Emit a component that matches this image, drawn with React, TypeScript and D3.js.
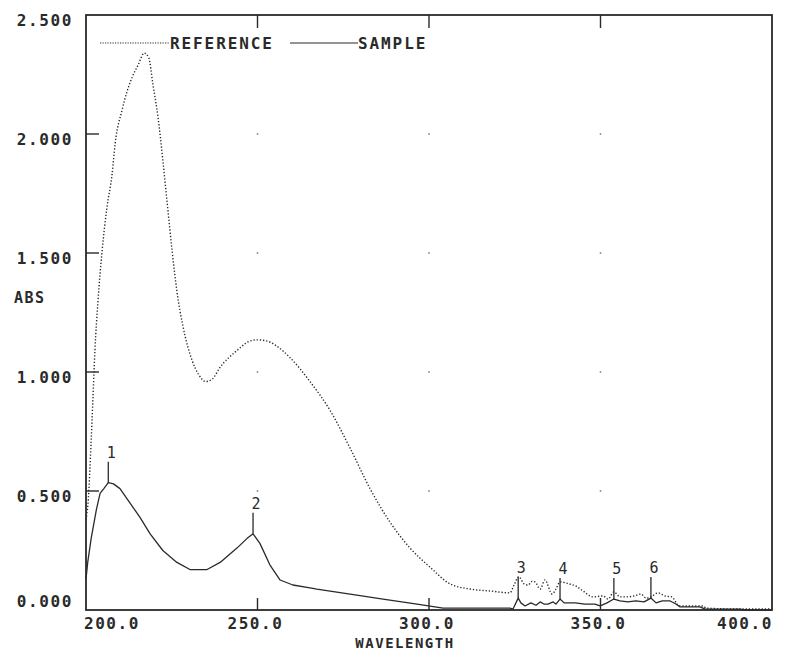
import React from "react";
import * as d3 from "d3";

const W = 788;
const H = 653;

// Reference spectrum (dotted)
const refWl = [200, 200.6, 201.5, 202.0, 202.6, 203.5, 204.7, 206.1, 207.6, 208.5, 210.5, 212.0, 213.5, 215.2, 217.0, 218.3, 219.5, 221.0, 222.4, 223.6, 225.1, 226.5, 228.3, 230.9, 232.8, 234.9, 236.8, 239.1, 244.0, 247.8, 249.9, 252.8, 255.5, 259.5, 265.3, 271.1, 277.0, 282.8, 288.6, 294.5, 300.3, 306.1, 312.0, 317.8, 323.6, 324.8, 326.2, 327.7, 328.9, 330.0, 330.9, 332.4, 333.8, 335.9, 337.0, 338.2, 340.8, 342.9, 344.9, 347.8, 350.7, 352.2, 353.9, 355.7, 357.7, 359.8, 361.8, 363.3, 364.7, 366.8, 368.8, 370.8, 372.9, 379.9, 380.8, 390.7, 400];
const refAbs = [0.38, 0.45, 0.71, 0.88, 1.09, 1.30, 1.51, 1.69, 1.83, 1.96, 2.10, 2.18, 2.24, 2.29, 2.34, 2.32, 2.21, 2.07, 1.89, 1.72, 1.51, 1.34, 1.19, 1.05, 0.99, 0.96, 0.97, 1.02, 1.09, 1.13, 1.135, 1.13, 1.11, 1.06, 0.96, 0.84, 0.68, 0.51, 0.37, 0.26, 0.18, 0.11, 0.088, 0.08, 0.072, 0.105, 0.14, 0.11, 0.105, 0.12, 0.118, 0.088, 0.126, 0.067, 0.088, 0.118, 0.11, 0.10, 0.08, 0.055, 0.059, 0.046, 0.076, 0.055, 0.055, 0.059, 0.067, 0.05, 0.055, 0.072, 0.059, 0.055, 0.017, 0.017, 0.008, 0.004, 0.004];

// Sample spectrum (solid)
const sampleWl = [200, 200.5, 201.5, 203.0, 204.1, 205.2, 206.5, 208.0, 209.9, 212.8, 215.7, 218.7, 222.4, 226.5, 230.3, 235.3, 239.1, 244.0, 246.9, 248.7, 250.7, 253.6, 256.6, 260.3, 265.3, 267.3, 277.0, 286.6, 296.5, 304.1, 323.6, 324.5, 326.0, 326.8, 328.0, 329.7, 331.2, 332.4, 333.5, 334.7, 336.2, 337.0, 338.2, 339.4, 342.6, 345.5, 348.4, 349.9, 351.9, 353.9, 355.7, 358.0, 360.3, 362.7, 364.7, 366.2, 368.0, 370.3, 372.0, 373.2, 379.0, 380.5, 390.7, 392.0, 400];
const sampleAbs = [0.13, 0.2, 0.3, 0.42, 0.49, 0.51, 0.535, 0.53, 0.51, 0.45, 0.39, 0.32, 0.25, 0.20, 0.17, 0.17, 0.20, 0.26, 0.30, 0.32, 0.28, 0.19, 0.126, 0.105, 0.093, 0.088, 0.067, 0.046, 0.025, 0.008, 0.008, 0.004, 0.05, 0.03, 0.017, 0.03, 0.02, 0.034, 0.025, 0.025, 0.034, 0.025, 0.046, 0.03, 0.03, 0.025, 0.025, 0.017, 0.03, 0.046, 0.038, 0.034, 0.038, 0.034, 0.05, 0.03, 0.038, 0.038, 0.025, 0.013, 0.013, 0.004, 0.004, 0, 0];

// Peak picks on the sample
const peakWl = [206.5, 248.7, 326.0, 338.2, 353.9, 364.7];
const peakLabels = ["1", "2", "3", "4", "5", "6"];

// Axis ticks
const yTicks = [0, 0.5, 1.0, 1.5, 2.0, 2.5];
const yTickLabels = ["0.000", "0.500", "1.000", "1.500", "2.000", "2.500"];
const xTicks = [200, 250, 300, 350, 400];
const xTickLabels = ["200.0", "250.0", "300.0", "350.0", "400.0"];

const legendNames = ["REFERENCE", "SAMPLE"];

const LEFT = 86, RIGHT = 772, TOP = 15, BOTTOM = 610;
const INK = "#2a2a2a";
const FONT = "'DejaVu Sans Mono', monospace";

export default function App() {
  const x = d3.scaleLinear().domain([200, 400]).range([LEFT, RIGHT]);
  const y = d3.scaleLinear().domain([0, 2.5]).range([BOTTOM, TOP]);

  const ref = refWl.map((w, i) => [w, refAbs[i]] as [number, number]).filter((d) => d[1] !== undefined);
  const smp = sampleWl.map((w, i) => [w, sampleAbs[i]] as [number, number]).filter((d) => d[1] !== undefined);

  const refLine = d3.line<[number, number]>().x((d) => x(d[0])).y((d) => y(d[1])).curve(d3.curveMonotoneX);
  const smpLine = d3.line<[number, number]>().x((d) => x(d[0])).y((d) => y(d[1])).curve(d3.curveLinear);

  const peaks = peakWl.map((w, i) => {
    let best = smp[0];
    smp.forEach((d) => { if (Math.abs(d[0] - w) < Math.abs(best[0] - w)) best = d; });
    return { w: best[0], v: best[1], label: peakLabels[i] };
  });

  const innerX = xTicks.filter((t) => t > 200 && t < 400);
  const innerY = yTicks.filter((t) => t > 0 && t < 2.5);

  return (
    <svg width={W} height={H} viewBox={`0 0 ${W} ${H}`} style={{ display: "block", position: "absolute", left: 0, top: 0, background: "#fff" }}>
      <rect x={0} y={0} width={W} height={H} fill="#fff" />
      {/* grid dots */}
      {innerX.map((tx) => innerY.map((ty) => (
        <rect key={`g${tx}-${ty}`} x={x(tx) - 0.75} y={y(ty) - 0.75} width={1.5} height={1.5} fill="#777" />
      )))}
      {/* frame */}
      <rect x={LEFT} y={TOP} width={RIGHT - LEFT} height={BOTTOM - TOP} fill="none" stroke={INK} strokeWidth={1.8} />
      {/* y ticks */}
      {innerY.map((t) => (
        <line key={`yt${t}`} x1={LEFT} x2={LEFT + 13} y1={y(t)} y2={y(t)} stroke={INK} strokeWidth={1.4} />
      ))}
      {/* x ticks top and bottom */}
      {innerX.map((t) => (
        <g key={`xt${t}`}>
          <line x1={x(t)} x2={x(t)} y1={TOP} y2={TOP + 13} stroke={INK} strokeWidth={1.4} />
          <line x1={x(t)} x2={x(t)} y1={BOTTOM} y2={BOTTOM - 12} stroke={INK} strokeWidth={1.4} />
        </g>
      ))}
      {/* y labels */}
      {yTicks.map((t, i) => (
        <text key={`yl${t}`} x={73} y={t === 0 ? y(t) - 3 : y(t) + 11} textAnchor="end" fontFamily={FONT} fontWeight="bold" fontSize={16} letterSpacing={1.6} fill={INK}>
          {yTickLabels[i]}
        </text>
      ))}
      <text x={14} y={303} fontFamily={FONT} fontWeight="bold" fontSize={15} letterSpacing={1.5} fill={INK}>ABS</text>
      {/* x labels */}
      {xTicks.map((t, i) => (
        <text key={`xl${t}`} x={i === 0 ? x(t) + 26 : i === xTicks.length - 1 ? x(t) - 27 : x(t) - 2} y={629} textAnchor="middle" fontFamily={FONT} fontWeight="bold" fontSize={16} letterSpacing={1.6} fill={INK}>
          {xTickLabels[i]}
        </text>
      ))}
      <text x={405} y={648} textAnchor="middle" fontFamily={FONT} fontWeight="bold" fontSize={14} letterSpacing={1.5} fill={INK}>WAVELENGTH</text>
      {/* legend */}
      <line x1={100} x2={170} y1={43} y2={43} stroke={INK} strokeWidth={1.2} strokeDasharray="1.2 1.3" />
      <text x={170} y={49} fontFamily={FONT} fontWeight="bold" fontSize={16} letterSpacing={1.9} fill={INK}>{legendNames[0]}</text>
      <line x1={290} x2={358} y1={43} y2={43} stroke={INK} strokeWidth={1.2} />
      <text x={358} y={49} fontFamily={FONT} fontWeight="bold" fontSize={16} letterSpacing={1.9} fill={INK}>{legendNames[1]}</text>
      {/* curves */}
      <path d={refLine(ref) || ""} fill="none" stroke={INK} strokeWidth={1.4} strokeDasharray="1.3 1.9" />
      <path d={smpLine(smp) || ""} fill="none" stroke={INK} strokeWidth={1.3} strokeLinejoin="round" />
      {/* peak markers */}
      {peaks.map((p) => (
        <g key={`p${p.label}`}>
          <line x1={x(p.w)} x2={x(p.w)} y1={y(p.v)} y2={y(p.v) - 21} stroke={INK} strokeWidth={1.3} />
          <text x={x(p.w) + 3} y={y(p.v) - 25} textAnchor="middle" fontFamily={FONT} fontSize={15} fill={INK}>{p.label}</text>
        </g>
      ))}
    </svg>
  );
}
